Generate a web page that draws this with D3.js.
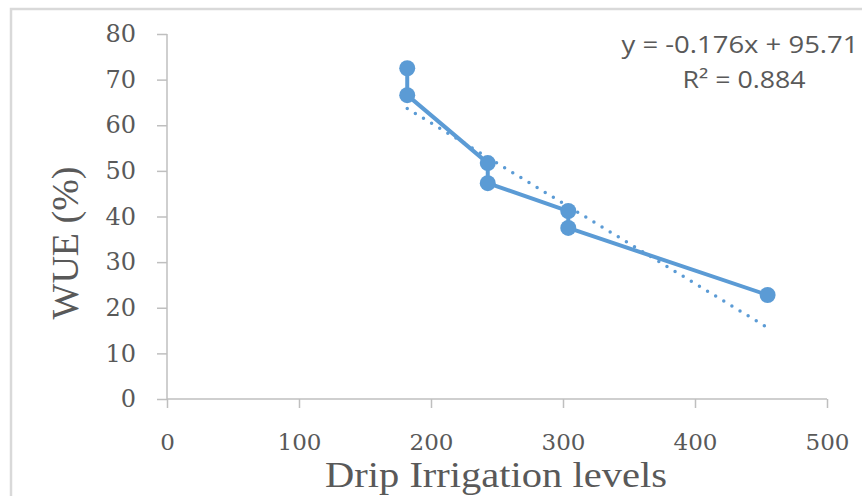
<!DOCTYPE html>
<html>
<head>
<meta charset="utf-8">
<script src="https://cdn.jsdelivr.net/npm/d3@7/dist/d3.min.js"></script>
<style>
  body { margin: 0; background: #fff; }
  svg { display: block; }
</style>
</head>
<body>
<div id="container"></div>
<script>
// data
var irrigation = [182, 182, 243, 243, 304, 304, 455];
var wue = [72.5, 66.6, 51.7, 47.3, 41.2, 37.5, 22.8];
var xTicks = [0, 100, 200, 300, 400, 500];
var yTicks = [0, 10, 20, 30, 40, 50, 60, 70, 80];
var trendSlope = -0.176;
var trendIntercept = 95.71;
var equationLines = ["y = -0.176x + 95.71", "R\u00B2 = 0.884"];

var width = 862, height = 496;
var margin = { top: 34, right: 35, bottom: 97, left: 167 };
var blue = "#5b9bd5";
var axisGray = "#bfbfbf";
var textGray = "#595959";

var svg = d3.select("#container")
  .append("svg")
  .attr("width", width)
  .attr("height", height);

// chart frame (runs off the right and bottom edge)
svg.append("rect")
  .attr("x", 11)
  .attr("y", 9)
  .attr("width", width + 20)
  .attr("height", height + 20)
  .attr("fill", "#fff")
  .attr("stroke", "#d9d9d9")
  .attr("stroke-width", 2.5);

var x = d3.scaleLinear().domain([0, 500]).range([margin.left, width - margin.right]);
var y = d3.scaleLinear().domain([0, 80]).range([height - margin.bottom, margin.top]);

// y axis
var yAxis = svg.append("g")
  .attr("transform", "translate(" + margin.left + ",0)")
  .call(d3.axisLeft(y).tickValues(yTicks).tickSize(10).tickPadding(21));
yAxis.selectAll("path, line").attr("stroke", axisGray).attr("stroke-width", 1.5);
yAxis.select(".domain").attr("d", "M0," + y(80) + "V" + y(0));
yAxis.selectAll("text")
  .attr("font-family", "DejaVu Serif")
  .attr("font-size", 24)
  .attr("fill", textGray);

// x axis
var xAxis = svg.append("g")
  .attr("transform", "translate(0," + y(0) + ")")
  .call(d3.axisBottom(x).tickValues(xTicks).tickSize(9));
xAxis.selectAll("path, line").attr("stroke", axisGray).attr("stroke-width", 1.5);
xAxis.select(".domain").attr("d", "M" + x(0) + ",0H" + x(500));
xAxis.selectAll("text")
  .attr("y", 51)
  .attr("dy", 0)
  .attr("font-family", "DejaVu Serif")
  .attr("font-size", 23)
  .attr("fill", textGray);

// axis titles
svg.append("text")
  .attr("transform", "translate(78,243) rotate(-90)")
  .attr("text-anchor", "middle")
  .attr("font-family", "Liberation Serif")
  .attr("font-size", 38)
  .attr("fill", textGray)
  .text("WUE (%)");

svg.append("text")
  .attr("x", 496)
  .attr("y", 487)
  .attr("text-anchor", "middle")
  .attr("font-family", "Liberation Serif")
  .attr("font-size", 36)
  .attr("textLength", 342)
  .attr("lengthAdjust", "spacingAndGlyphs")
  .attr("fill", textGray)
  .text("Drip Irrigation levels");

// trendline over the data range
var xMin = d3.min(irrigation), xMax = d3.max(irrigation);
var trend = [xMin, xMax].map(function(v) { return [v, trendSlope * v + trendIntercept]; });
svg.append("path")
  .attr("d", d3.line().x(function(d) { return x(d[0]); }).y(function(d) { return y(d[1]); })(trend))
  .attr("fill", "none")
  .attr("stroke", blue)
  .attr("stroke-width", 3.5)
  .attr("stroke-linecap", "round")
  .attr("stroke-dasharray", "0 9.5");

// data series
var pts = irrigation.map(function(v, i) { return [v, wue[i]]; });
svg.append("path")
  .attr("d", d3.line().x(function(d) { return x(d[0]); }).y(function(d) { return y(d[1]); })(pts))
  .attr("fill", "none")
  .attr("stroke", blue)
  .attr("stroke-width", 4)
  .attr("stroke-linejoin", "round");

svg.append("g")
  .selectAll("circle")
  .data(pts)
  .enter()
  .append("circle")
  .attr("cx", function(d) { return x(d[0]); })
  .attr("cy", function(d) { return y(d[1]); })
  .attr("r", 8)
  .attr("fill", blue);

// trendline label
svg.append("text")
  .attr("x", 740)
  .attr("y", 53)
  .attr("text-anchor", "middle")
  .attr("font-family", "Open Sans")
  .attr("font-size", 23)
  .attr("textLength", 237)
  .attr("lengthAdjust", "spacingAndGlyphs")
  .attr("fill", textGray)
  .text(equationLines[0]);

svg.append("text")
  .attr("x", 744)
  .attr("y", 88)
  .attr("text-anchor", "middle")
  .attr("font-family", "Open Sans")
  .attr("font-size", 23)
  .attr("textLength", 123)
  .attr("lengthAdjust", "spacingAndGlyphs")
  .attr("fill", textGray)
  .text(equationLines[1]);
</script>
</body>
</html>
